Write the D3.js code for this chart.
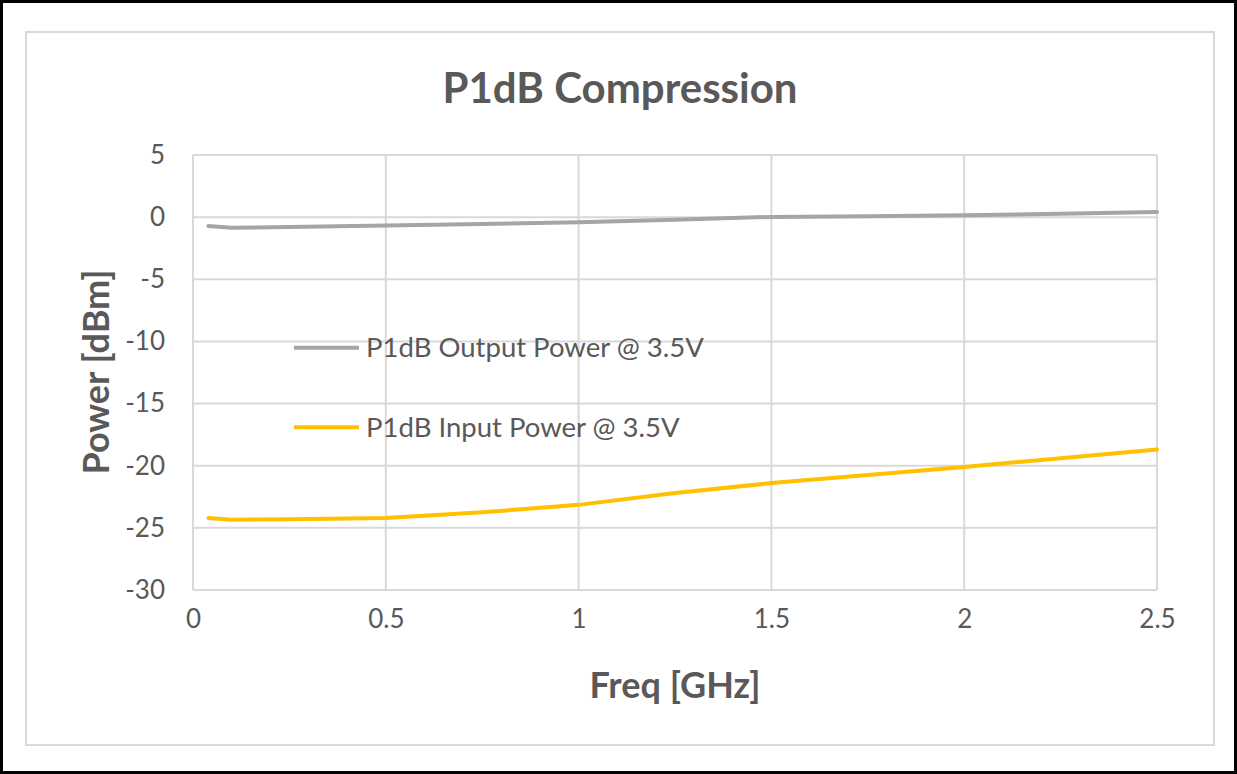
<!DOCTYPE html>
<html><head><meta charset="utf-8">
<script src="https://cdn.jsdelivr.net/npm/d3@7"></script>
<style>
html,body{margin:0;padding:0;background:#fff;}
svg{display:block;}
text{font-family:Lato,"Open Sans",sans-serif;fill:#595959;}
</style></head>
<body>
<svg id="chart" width="1237" height="774"></svg>
<script>
const freq = [0.04, 0.1, 0.25, 0.5, 0.75, 1.0, 1.25, 1.5, 1.75, 2.0, 2.25, 2.5];
const outputPower = [-0.72, -0.85, -0.8, -0.68, -0.55, -0.42, -0.2, 0.02, 0.08, 0.15, 0.28, 0.42];
const inputPower = [-24.2, -24.35, -24.3, -24.2, -23.75, -23.15, -22.2, -21.4, -20.75, -20.1, -19.4, -18.7];
const xTicks = [0, 0.5, 1, 1.5, 2, 2.5];
const yTicks = [5, 0, -5, -10, -15, -20, -25, -30];
const seriesNames = ["P1dB Output Power @ 3.5V", "P1dB Input Power @ 3.5V"];
const seriesColors = ["#a5a5a5", "#ffc000"];
const title = "P1dB Compression";
const xTitle = "Freq [GHz]";
const yTitle = "Power [dBm]";

const svg = d3.select("#chart");
svg.append("rect").attr("x",1.5).attr("y",1.5).attr("width",1234).attr("height",771)
  .attr("fill","#fff").attr("stroke","#000").attr("stroke-width",3);
svg.append("rect").attr("x",26).attr("y",32).attr("width",1188).attr("height",713)
  .attr("fill","#fff").attr("stroke","#d9d9d9").attr("stroke-width",2);

const L=193, R=1157, T=155, B=590;
const x = d3.scaleLinear().domain([0,2.5]).range([L,R]);
const y = d3.scaleLinear().domain([-30,5]).range([B,T]);

const g = svg.append("g");
g.selectAll(".hg").data(yTicks).join("line")
  .attr("x1",L).attr("x2",R).attr("y1",d=>y(d)).attr("y2",d=>y(d))
  .attr("stroke","#d9d9d9").attr("stroke-width",2);
g.selectAll(".vg").data(xTicks).join("line")
  .attr("y1",T).attr("y2",B).attr("x1",d=>x(d)).attr("x2",d=>x(d))
  .attr("stroke","#d9d9d9").attr("stroke-width",2);

const fmt = d => String(d);
const xAxis = svg.append("g").attr("transform",`translate(0,${B})`)
  .call(d3.axisBottom(x).tickValues(xTicks).tickSize(0).tickPadding(30).tickFormat(fmt));
const yAxis = svg.append("g").attr("transform",`translate(${L},0)`)
  .call(d3.axisLeft(y).tickValues(yTicks).tickSize(0).tickPadding(28).tickFormat(fmt));
[xAxis,yAxis].forEach(a=>{
  a.select(".domain").remove();
  a.selectAll("text").attr("font-family","Lato, 'Open Sans', sans-serif").attr("font-size",26).attr("fill","#595959");
});
xAxis.selectAll("text").attr("dy","0.32em");

const line = d3.line().x((d,i)=>x(freq[i])).y(d=>y(d));
[outputPower, inputPower].forEach((s,k)=>{
  svg.append("path").datum(s).attr("d",line).attr("fill","none")
    .attr("stroke",seriesColors[k]).attr("stroke-width",4).attr("stroke-linecap","round").attr("stroke-linejoin","round");
});

const legY = [y(-10.5), y(-16.9)];
seriesNames.forEach((n,k)=>{
  svg.append("line").attr("x1",294).attr("x2",359).attr("y1",legY[k]).attr("y2",legY[k])
    .attr("stroke",seriesColors[k]).attr("stroke-width",4);
  svg.append("text").attr("x",366).attr("y",legY[k]).attr("dy","0.35em")
    .attr("font-size",27.5).text(n);
});

svg.append("text").attr("x",620).attr("y",88).attr("dy","0.35em").attr("text-anchor","middle")
  .attr("font-size",42).attr("font-weight","bold").text(title);
svg.append("text").attr("x",675).attr("y",685).attr("dy","0.35em").attr("text-anchor","middle")
  .attr("font-size",36).attr("font-weight","bold").text(xTitle);
svg.append("text").attr("transform","translate(96,372) rotate(-90)").attr("dy","0.35em").attr("text-anchor","middle")
  .attr("font-size",36).attr("font-weight","bold").text(yTitle);
</script>
</body></html>
